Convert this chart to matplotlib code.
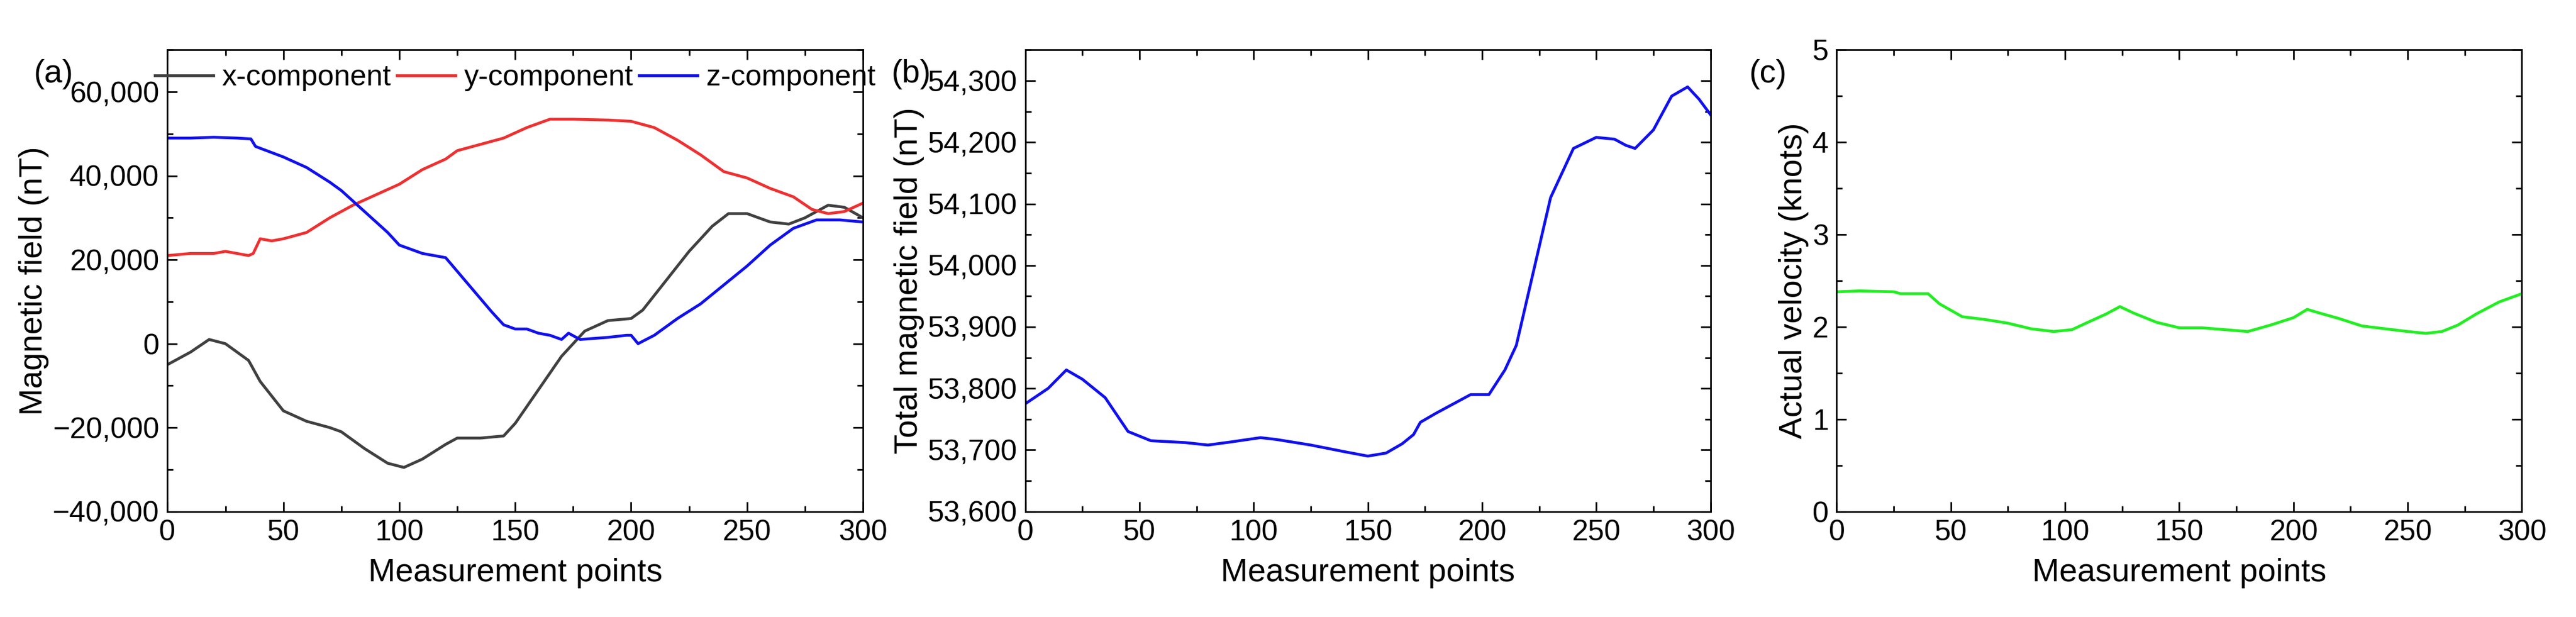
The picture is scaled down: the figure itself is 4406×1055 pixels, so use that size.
import matplotlib
matplotlib.use('Agg')
import matplotlib.pyplot as plt
from matplotlib.ticker import FuncFormatter, MultipleLocator

plt.rcParams['font.family'] = ['Liberation Sans Narrow', 'Liberation Sans', 'DejaVu Sans']

# (a) components of the magnetic field
x_pts = [0, 10, 18, 25, 35, 40, 50, 60, 70, 75, 85, 95, 102, 110, 120, 125, 135, 145, 150, 160,
         170, 175, 180, 190, 200, 205, 215, 225, 235, 242, 250, 260, 268, 275, 285, 292, 300]
x_comp = [-5000, -2000, 1000, 0, -4000, -9000, -16000, -18500, -20000, -21000, -25000, -28500,
          -29500, -27500, -24000, -22500, -22500, -22000, -19000, -11000, -3000, 0, 3000, 5500,
          6000, 8000, 15000, 22000, 28000, 31000, 31000, 29000, 28500, 30000, 33000, 32500, 30000]

y_pts = [0, 10, 20, 25, 35, 37, 40, 45, 50, 60, 70, 80, 90, 100, 110, 120, 125, 135, 145, 155,
         165, 175, 190, 200, 210, 220, 230, 240, 250, 260, 270, 278, 285, 292, 300]
y_comp = [21000, 21500, 21500, 22000, 21000, 21500, 25000, 24500, 25000, 26500, 30000, 33000,
          35500, 38000, 41500, 44000, 46000, 47500, 49000, 51500, 53500, 53500, 53300, 53000,
          51500, 48500, 45000, 41000, 39500, 37000, 35000, 32000, 31000, 31500, 33500]

z_pts = [0, 10, 20, 30, 36, 38, 50, 60, 70, 75, 85, 95, 100, 110, 120, 130, 140, 145, 150, 155,
         160, 165, 170, 173, 178, 190, 198, 200, 203, 210, 220, 230, 240, 250, 260, 270, 280,
         290, 300]
z_comp = [49000, 49000, 49200, 49000, 48800, 47000, 44500, 42000, 38500, 36500, 31500, 26500,
          23500, 21500, 20500, 14000, 7500, 4500, 3500, 3500, 2500, 2000, 1000, 2500, 1000, 1500,
          2000, 2000, 0, 2000, 6000, 9500, 14000, 18500, 23500, 27500, 29500, 29500, 29000]

# (b) total magnetic field
t_pts = [0, 10, 18, 25, 35, 45, 55, 70, 80, 90, 103, 110, 125, 140, 150, 158, 165, 170, 173,
         180, 190, 195, 203, 210, 215, 220, 225, 230, 240, 250, 258, 263, 267, 275, 283, 290,
         295, 300]
total = [53775, 53800, 53830, 53815, 53785, 53730, 53715, 53712, 53708, 53713, 53720, 53717,
         53708, 53697, 53690, 53695, 53710, 53725, 53745, 53760, 53780, 53790, 53790, 53830,
         53870, 53950, 54030, 54110, 54190, 54208, 54205, 54195, 54190, 54220, 54275, 54290,
         54270, 54245]

# (c) actual velocity
v_pts = [0, 10, 25, 28, 40, 45, 50, 55, 65, 75, 85, 95, 103, 110, 118, 124, 130, 140, 150, 160,
         170, 180, 190, 200, 206, 210, 220, 230, 240, 250, 258, 265, 272, 280, 290, 300]
velocity = [2.38, 2.39, 2.38, 2.36, 2.36, 2.25, 2.18, 2.11, 2.08, 2.04, 1.98, 1.95, 1.97, 2.05,
            2.14, 2.22, 2.15, 2.05, 1.99, 1.99, 1.97, 1.95, 2.02, 2.10, 2.19, 2.16, 2.09, 2.01,
            1.98, 1.95, 1.93, 1.95, 2.02, 2.14, 2.27, 2.36]

TICK_FS = 36
LABEL_FS = 40
comma = FuncFormatter(lambda v, p: f'{v:,.0f}'.replace('-', '\u2212'))

fig = plt.figure(figsize=(44.06, 10.55), dpi=100)
ax_a = fig.add_axes([0.065, 0.171, 0.270, 0.748])
ax_b = fig.add_axes([0.398, 0.171, 0.266, 0.748])
ax_c = fig.add_axes([0.713, 0.171, 0.266, 0.748])


def style(ax):
    ax.set_xlim(0, 300)
    ax.xaxis.set_major_locator(MultipleLocator(50))
    ax.xaxis.set_minor_locator(MultipleLocator(25))
    ax.tick_params(which='both', direction='in', top=True, right=True, width=2)
    ax.tick_params(which='major', length=12, labelsize=TICK_FS, pad=10)
    ax.tick_params(which='minor', length=7)
    for s in ax.spines.values():
        s.set_linewidth(2)
    ax.set_xlabel('Measurement points', fontsize=LABEL_FS, labelpad=14)


ax_a.plot(x_pts, x_comp, color='#404040', lw=3.5, label='x-component')
ax_a.plot(y_pts, y_comp, color='#ee3030', lw=3.5, label='y-component')
ax_a.plot(z_pts, z_comp, color='#1010ee', lw=3.5, label='z-component')
style(ax_a)
ax_a.set_ylim(-40000, 70000)
ax_a.yaxis.set_major_locator(MultipleLocator(20000))
ax_a.yaxis.set_minor_locator(MultipleLocator(10000))
ax_a.yaxis.set_major_formatter(comma)
ax_a.set_ylabel('Magnetic field (nT)', fontsize=LABEL_FS, family=['Liberation Sans', 'DejaVu Sans'])
ax_a.legend(loc='upper center', ncol=3, frameon=False, fontsize=TICK_FS, handlelength=2.0,
            handletextpad=0.3, columnspacing=0.2, borderaxespad=0.1, bbox_to_anchor=(0.5, 1.0))

ax_b.plot(t_pts, total, color='#1010ee', lw=3.5)
style(ax_b)
ax_b.set_ylim(53600, 54350)
ax_b.yaxis.set_major_locator(MultipleLocator(100))
ax_b.yaxis.set_minor_locator(MultipleLocator(50))
ax_b.yaxis.set_major_formatter(comma)
ax_b.set_ylabel('Total magnetic field (nT)', fontsize=LABEL_FS, family=['Liberation Sans', 'DejaVu Sans'])

ax_c.plot(v_pts, velocity, color='#22ee22', lw=3.5)
style(ax_c)
ax_c.set_ylim(0, 5)
ax_c.yaxis.set_major_locator(MultipleLocator(1))
ax_c.yaxis.set_minor_locator(MultipleLocator(0.5))
ax_c.set_ylabel('Actual velocity (knots)', fontsize=LABEL_FS, family=['Liberation Sans', 'DejaVu Sans'])

for lab, xf in [('(a)', 0.013), ('(b)', 0.346), ('(c)', 0.679)]:
    fig.text(xf, 0.88, lab, fontsize=LABEL_FS, ha='left', va='center')

fig.savefig('out.png', dpi=100)
